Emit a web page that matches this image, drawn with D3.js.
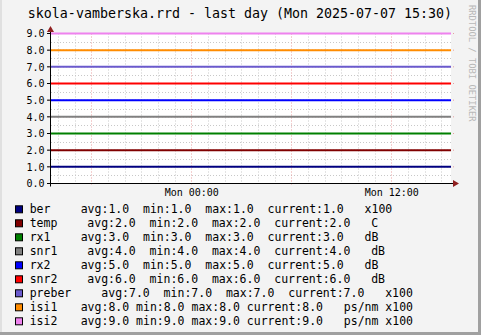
<!DOCTYPE html>
<html><head><meta charset="utf-8">
<script src="https://cdn.jsdelivr.net/npm/d3@7"></script>
<style>
html,body{margin:0;padding:0;background:#f3f3f3;}
svg{display:block;}
text{font-family:"DejaVu Sans Mono",monospace;white-space:pre;}
</style></head><body>
<script>
// ---- data ----
const titleText = "skola-vamberska.rrd - last day (Mon 2025-07-07 15:30)";
const names = ["ber","temp","rx1","snr1","rx2","snr2","preber","isi1","isi2"];
const colors = ["#000080","#800000","#008000","#808080","#0000FF","#FF0000","#6A5ACD","#FF8C00","#EE82EE"];
const units = ["x100","C","dB","dB","dB","dB","x100","ps/nm x100","ps/nm x100"];
const sampleTimes = ["2025-07-06T15:35:00Z","2025-07-06T21:35:00Z","2025-07-07T03:35:00Z","2025-07-07T09:35:00Z","2025-07-07T15:35:00Z"];
const ber    = [1.0,1.0,1.0,1.0,1.0];
const temp   = [2.0,2.0,2.0,2.0,2.0];
const rx1    = [3.0,3.0,3.0,3.0,3.0];
const snr1   = [4.0,4.0,4.0,4.0,4.0];
const rx2    = [5.0,5.0,5.0,5.0,5.0];
const snr2   = [6.0,6.0,6.0,6.0,6.0];
const preber = [7.0,7.0,7.0,7.0,7.0];
const isi1   = [8.0,8.0,8.0,8.0,8.0];
const isi2   = [9.0,9.0,9.0,9.0,9.0];
const seriesValues = [ber,temp,rx1,snr1,rx2,snr2,preber,isi1,isi2];
const yTicks = [0,1,2,3,4,5,6,7,8,9];
const watermark = "RRDTOOL / TOBI OETIKER";

// ---- layout ----
const W = 481, H = 335;
const L = 51, R = 451, T = 33.5, B = 183.5;
const svg = d3.select("body").append("svg").attr("width", W).attr("height", H);

svg.append("rect").attr("width", W).attr("height", H).attr("fill", "#f3f3f3");
// frame shading
svg.append("rect").attr("x",0).attr("y",0).attr("width",2).attr("height",H).attr("fill","#e0e0e0");
svg.append("rect").attr("x",W-3).attr("y",0).attr("width",3).attr("height",H).attr("fill","#a0a0a0");
svg.append("rect").attr("x",0).attr("y",H-3).attr("width",W).attr("height",3).attr("fill","#a0a0a0");

const times = sampleTimes.map(s => new Date(s));
const x = d3.scaleUtc().domain([times[0], times[times.length-1]]).range([L, R]);
const y = d3.scaleLinear().domain([0, 9]).range([B, T]);

// plot background
svg.append("rect").attr("x", L).attr("y", T).attr("width", R-L).attr("height", B-T).attr("fill", "#ffffff");

const g = svg.append("g");
// minor horizontal grid (every 0.5)
const minorY = d3.range(0.5, 9, 1);
g.selectAll(".mny").data(minorY).enter().append("line")
  .attr("x1", L).attr("x2", R).attr("y1", d => Math.round(y(d))+0.5).attr("y2", d => Math.round(y(d))+0.5)
  .attr("stroke", "#c8c8c8").attr("stroke-dasharray", "1,2");
// minor vertical grid (hourly)
const hours = d3.utcHour.every(1).range(x.domain()[0], x.domain()[1]);
g.selectAll(".mnx").data(hours.filter(d => d.getUTCHours() % 6 !== 0)).enter().append("line")
  .attr("x1", d => Math.round(x(d))+0.5).attr("x2", d => Math.round(x(d))+0.5)
  .attr("y1", T).attr("y2", B)
  .attr("stroke", "#c8c8c8").attr("stroke-dasharray", "1,2");
// major vertical grid (6h)
const majorX = hours.filter(d => d.getUTCHours() % 6 === 0);
g.selectAll(".mjx").data(majorX).enter().append("line")
  .attr("x1", d => Math.round(x(d))+0.5).attr("x2", d => Math.round(x(d))+0.5)
  .attr("y1", T).attr("y2", B+3)
  .attr("stroke", "#e8a0a0").attr("stroke-dasharray", "1,2");
// major horizontal grid (integers)
g.selectAll(".mjy").data(yTicks).enter().append("line")
  .attr("x1", L-3).attr("x2", R+3).attr("y1", d => y(d)).attr("y2", d => y(d))
  .attr("stroke", "#e8a0a0").attr("stroke-dasharray", "1,2");

// series lines
const line = d3.line().x((d,i) => x(times[i])).y(d => y(d));
seriesValues.forEach((vals, i) => {
  svg.append("path").attr("d", line(vals)).attr("fill", "none")
    .attr("stroke", colors[i]).attr("stroke-width", 2);
});

// axes
svg.append("line").attr("x1", L-3).attr("x2", R+3).attr("y1", B).attr("y2", B).attr("stroke", "#000");
svg.append("line").attr("x1", L-0.5).attr("x2", L-0.5).attr("y1", B+3).attr("y2", T-4).attr("stroke", "#000");
svg.append("path").attr("d", `M${R+2},${B-3.5} L${R+8},${B} L${R+2},${B+3.5} Z`).attr("fill", "#902020");
svg.append("path").attr("d", `M${L-4},${T-1.5} L${L-0.5},${T-7.5} L${L+3},${T-1.5} Z`).attr("fill", "#902020");
// y tick marks
svg.selectAll(".yt").data(yTicks).enter().append("line")
  .attr("x1", L-4).attr("x2", L).attr("y1", d => y(d)).attr("y2", d => y(d)).attr("stroke", "#000");

// y labels
svg.selectAll(".yl").data(yTicks).enter().append("text")
  .attr("x", 44.5).attr("y", d => y(d) + 3.7)
  .attr("text-anchor", "end").attr("font-size", "10px").attr("fill", "#000")
  .text(d => d3.format(".1f")(d));

// x labels (every 12h)
const fmt = d3.utcFormat("%a %H:%M");
svg.selectAll(".xl").data(hours.filter(d => d.getUTCHours() % 12 === 0)).enter().append("text")
  .attr("x", d => x(d)+0.5).attr("y", 196).attr("text-anchor", "middle")
  .attr("font-size", "10px").attr("fill", "#000").text(d => fmt(d));

// title
svg.append("text").attr("x", 240).attr("y", 18.3).attr("text-anchor", "middle")
  .attr("font-size", "13.3px").attr("fill", "#000").text(titleText);

// watermark
svg.append("text").attr("transform", "translate(468.5,5) rotate(90)")
  .attr("font-size", "8.8px").attr("fill", "#b8b8b8").text(watermark);

// legend
const avgX = [81.7,88.3,81.7,88.3,81.7,88.3,102.3,81.7,81.7];
const f1 = d3.format(".1f");
seriesValues.forEach((vals, i) => {
  const by = 213.3 + 14*i;
  svg.append("rect").attr("x", 15.5).attr("y", by - 7.5).attr("width", 7).attr("height", 7)
    .attr("fill", colors[i]).attr("stroke", "#000");
  svg.append("text").attr("x", 29.7).attr("y", by).attr("font-size", "11.5px").attr("fill", "#000").text(names[i]);
  const a = f1(d3.mean(vals)), mn = f1(d3.min(vals)), mx = f1(d3.max(vals)), cur = f1(vals[vals.length-1]);
  const sep = i >= 7 ? " " : "  ";
  const s = `avg:${a}${sep}min:${mn}${sep}max:${mx}${sep}current:${cur}   ${units[i]}`;
  svg.append("text").attr("x", avgX[i]-1).attr("y", by).attr("font-size", "11.5px").attr("fill", "#000").text(s);
});
</script>
</body></html>
